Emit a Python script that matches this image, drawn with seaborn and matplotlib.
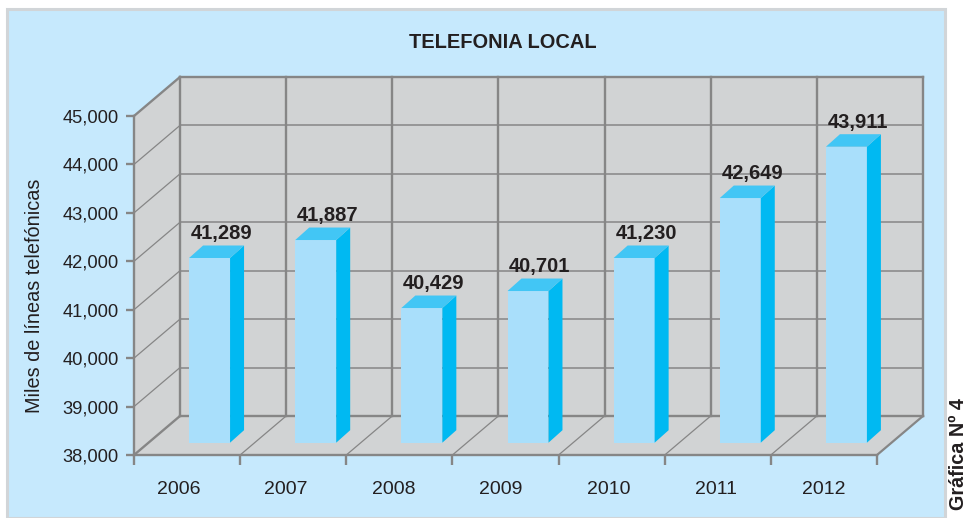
import numpy as np
import pandas as pd
import matplotlib
matplotlib.use("Agg")
import matplotlib.pyplot as plt
from matplotlib.patches import Polygon, Rectangle
from matplotlib.ticker import FuncFormatter
import seaborn as sns

years = ["2006", "2007", "2008", "2009", "2010", "2011", "2012"]
# heights as drawn in the picture (they do not agree exactly with the printed labels)
bar_heights = [41814, 42185, 40781, 41132, 41814, 43052, 44112]
bar_labels = ["41,289", "41,887", "40,429", "40,701", "41,230", "42,649", "43,911"]
y_ticks = [38000, 39000, 40000, 41000, 42000, 43000, 44000, 45000]

W, H = 970, 518
GREY = "#868686"
WALL = "#d1d3d4"
TEXT = "#231f20"
FRONT = "#a9dffb"
SIDE = "#00b9f2"
TOP = "#42c6f5"
PANEL = "#c6e9fd"

sns.set_theme(style="white")
plt.rcParams["font.family"] = ["Liberation Sans", "DejaVu Sans"]


def px_axes(fig, x0, y_bottom, width, height):
    return fig.add_axes([x0 / W, 1 - y_bottom / H, width / W, height / H])


fig = plt.figure(figsize=(W / 100, H / 100), dpi=100, facecolor="white")
fig.patches.append(Rectangle((7.5 / W, 0), 938 / W, 1 - 8.5 / H, transform=fig.transFigure,
                             facecolor=PANEL, edgecolor="#d1d5d8", linewidth=2.2, zorder=-1))

# front plane of the chart, holds the axis and the walls
ax = px_axes(fig, 134, 455, 743, 339)
ax.set_facecolor("none")
ax.set_xlim(-0.5, 6.5)
ax.set_ylim(y_ticks[0], y_ticks[-1])

wall_dx = 46 / 106.2
wall_dy = 39 / 339 * 7000
x0, x1 = -0.5, 6.5
y0, y1 = y_ticks[0], y_ticks[-1]

ax.add_patch(Polygon([(x0 + wall_dx, y0 + wall_dy), (x1 + wall_dx, y0 + wall_dy),
                      (x1 + wall_dx, y1 + wall_dy), (x0 + wall_dx, y1 + wall_dy)],
                     facecolor=WALL, edgecolor="none", clip_on=False, zorder=1))
ax.add_patch(Polygon([(x0, y0), (x0 + wall_dx, y0 + wall_dy),
                      (x0 + wall_dx, y1 + wall_dy), (x0, y1)],
                     facecolor=WALL, edgecolor="none", clip_on=False, zorder=1))
ax.add_patch(Polygon([(x0, y0), (x1, y0), (x1 + wall_dx, y0 + wall_dy), (x0 + wall_dx, y0 + wall_dy)],
                     facecolor=WALL, edgecolor="none", clip_on=False, zorder=1))

line_kw = dict(color=GREY, clip_on=False, zorder=2, solid_capstyle="projecting")
for v in y_ticks:
    lw = 1.7 if v in (y0, y1) else 1.1
    ax.plot([x0 + wall_dx, x1 + wall_dx], [v + wall_dy, v + wall_dy], lw=lw, **line_kw)
    diag_lw = 1.7 if v in (y0, y1) else 0.9
    ax.plot([x0, x0 + wall_dx], [v, v + wall_dy], lw=diag_lw, **line_kw)
for k in range(len(years) + 1):
    ax.plot([x0 + k + wall_dx] * 2, [y0 + wall_dy, y1 + wall_dy], lw=1.7, **line_kw)
    if k > 0:
        floor_lw = 1.6 if k == len(years) else 0.9
        ax.plot([x0 + k, x0 + k + wall_dx], [y0, y0 + wall_dy], lw=floor_lw, **line_kw)

ax.set_yticks(y_ticks)
ax.yaxis.set_major_formatter(FuncFormatter(lambda v, _: f"{int(v):,}"))
ax.set_xticks(np.arange(len(years)) * 1.0132 - 0.081, years)
ax.set_xticks(np.arange(len(years) + 1) - 0.5, minor=True)
ax.tick_params(axis="y", length=6, width=1.7, color=GREY, labelsize=13.2, labelcolor=TEXT, pad=5, left=True)
ax.tick_params(axis="x", which="major", length=0, labelsize=14, labelcolor=TEXT, pad=19)
ax.tick_params(axis="x", which="minor", length=7, width=1.7, color=GREY, bottom=True)
for name, spine in ax.spines.items():
    spine.set_visible(name in ("left", "bottom"))
    spine.set_color(GREY)
    spine.set_linewidth(1.7)
    spine.set_zorder(3)
ax.set_ylabel("Miles de líneas telefónicas", fontsize=14.3, color=TEXT)
ax.yaxis.set_label_coords(-0.121, 0.47)

# bars stand a little behind the front plane, so they get their own axes
ax_bars = px_axes(fig, 156.5, 442.7, 743, 339)
df = pd.DataFrame({"year": years, "value": bar_heights})
sns.barplot(data=df, x="year", y="value", color=FRONT, saturation=1, width=0.386,
            linewidth=0, ax=ax_bars)
ax_bars.set_xlim(-0.5, 6.5)
ax_bars.set_ylim(y0, y1)
ax_bars.set_axis_off()

bar_dx = 14 / 106.2
bar_dy = 12.5 / 339 * 7000
for bar, label in zip(ax_bars.containers[0], bar_labels):
    left = bar.get_x()
    right = left + bar.get_width()
    top = bar.get_height()
    ax_bars.add_patch(Polygon([(right, y0), (right + bar_dx, y0 + bar_dy),
                               (right + bar_dx, top + bar_dy), (right, top)],
                              facecolor=SIDE, edgecolor="none", clip_on=False))
    ax_bars.add_patch(Polygon([(left, top), (right, top), (right + bar_dx, top + bar_dy),
                               (left + bar_dx, top + bar_dy)],
                              facecolor=TOP, edgecolor="none", clip_on=False))
    ax_bars.annotate(label, ((left + right + bar_dx) / 2, top + bar_dy), xytext=(3.5, 1.5),
                     textcoords="offset points", ha="center", va="bottom",
                     fontsize=14.5, fontweight="bold", color=TEXT, annotation_clip=False)

fig.text(503 / W, 1 - 42 / H, "TELEFONIA LOCAL", ha="center", va="center",
         fontsize=14.4, fontweight="bold", color=TEXT)
fig.text(959 / W, 1 - 454 / H, "Gráfica Nº 4", rotation=90, ha="center", va="center",
         fontsize=14.2, fontweight="bold", color=TEXT)

plt.savefig("out.png", dpi=100)
plt.close()
